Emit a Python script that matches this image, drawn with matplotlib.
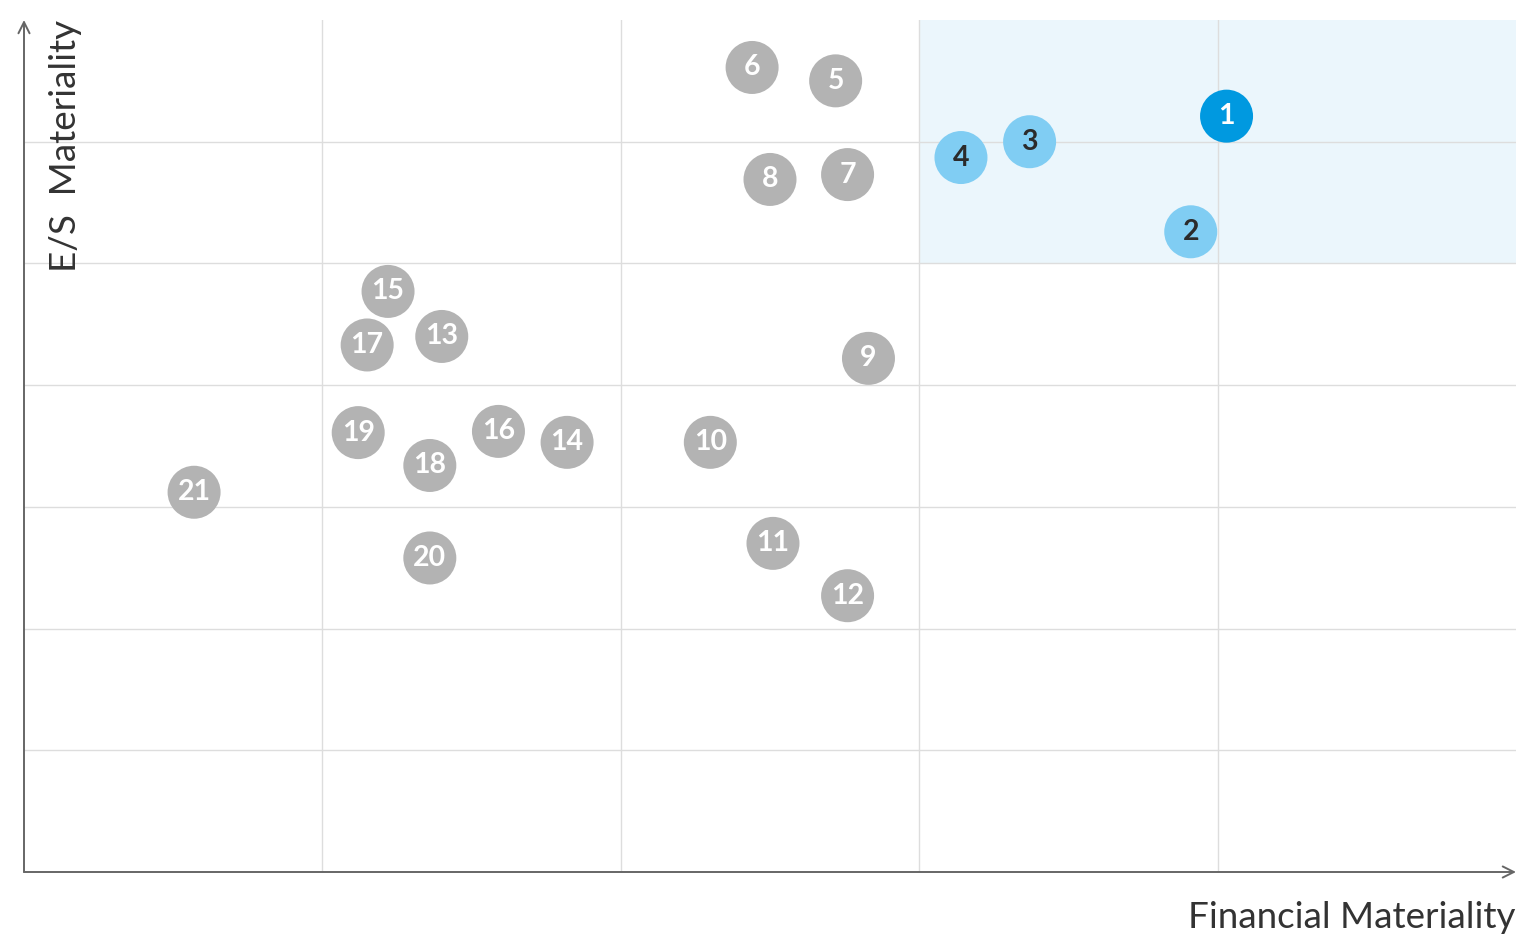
import matplotlib.pyplot as plt
from matplotlib.patches import Rectangle

# topic ids and positions (financial, E/S)
ids = [str(i) for i in range(1, 22)]
fin = [4.03, 3.91, 3.37, 3.14, 2.72, 2.44, 2.76, 2.50, 2.83, 2.30, 2.51,
       2.76, 1.40, 1.82, 1.22, 1.59, 1.15, 1.36, 1.12, 1.36, 0.57]
es = [6.21, 5.26, 6.00, 5.87, 6.50, 6.61, 5.73, 5.69, 4.22, 3.53, 2.70,
      2.27, 4.40, 3.53, 4.77, 3.62, 4.33, 3.34, 3.61, 2.58, 3.12]
tier = ['top', 'high', 'high', 'high'] + ['other'] * 17

fill = {'top': '#0099e0', 'high': '#80cdf3', 'other': '#b3b3b3'}
txt = {'top': 'white', 'high': '#2b2b2b', 'other': 'white'}

plt.rcParams['font.family'] = ['Lato', 'DejaVu Sans']

fig = plt.figure(figsize=(15.16, 9.35), dpi=100)
ax = fig.add_axes([24 / 1516, 63 / 935, 1492 / 1516, 852 / 935])
ax.set_xlim(0, 5)
ax.set_ylim(0, 7)

# highlighted quadrant
ax.add_patch(Rectangle((3, 5), 2, 2, facecolor='#ebf6fc', edgecolor='none', zorder=0))

for gx in range(1, 5):
    ax.axvline(gx, color='#dddddd', lw=1, zorder=1)
for gy in range(1, 7):
    ax.axhline(gy, color='#dddddd', lw=1, zorder=1)

for s in ax.spines.values():
    s.set_visible(False)
ax.set_xticks([])
ax.set_yticks([])

# axis arrows
ax.annotate('', xy=(0, 1), xytext=(0, 0), xycoords='axes fraction',
            arrowprops=dict(arrowstyle='->', color='#666666', lw=1.4,
                            mutation_scale=20, shrinkA=0, shrinkB=0),
            annotation_clip=False)
ax.annotate('', xy=(1, 0), xytext=(0, 0), xycoords='axes fraction',
            arrowprops=dict(arrowstyle='->', color='#666666', lw=1.4,
                            mutation_scale=20, shrinkA=0, shrinkB=0),
            annotation_clip=False)

for i, x, y, t in zip(ids, fin, es, tier):
    ax.scatter(x, y, s=1456, color=fill[t], edgecolors='none', zorder=3, clip_on=False)
    ax.text(x, y, i, ha='center', va='center', fontsize=20.5,
            color=txt[t], fontweight='bold', zorder=4)

fig.text(65 / 1516, 1 - 20 / 935, 'E/S  Materiality', rotation=90, ha='center', va='top',
         fontsize=26.5, color='#333333')
fig.text(1, 1 - 918 / 935, 'Financial Materiality', ha='right', va='center',
         fontsize=26.5, color='#333333')

fig.savefig('out.png', dpi=100)
